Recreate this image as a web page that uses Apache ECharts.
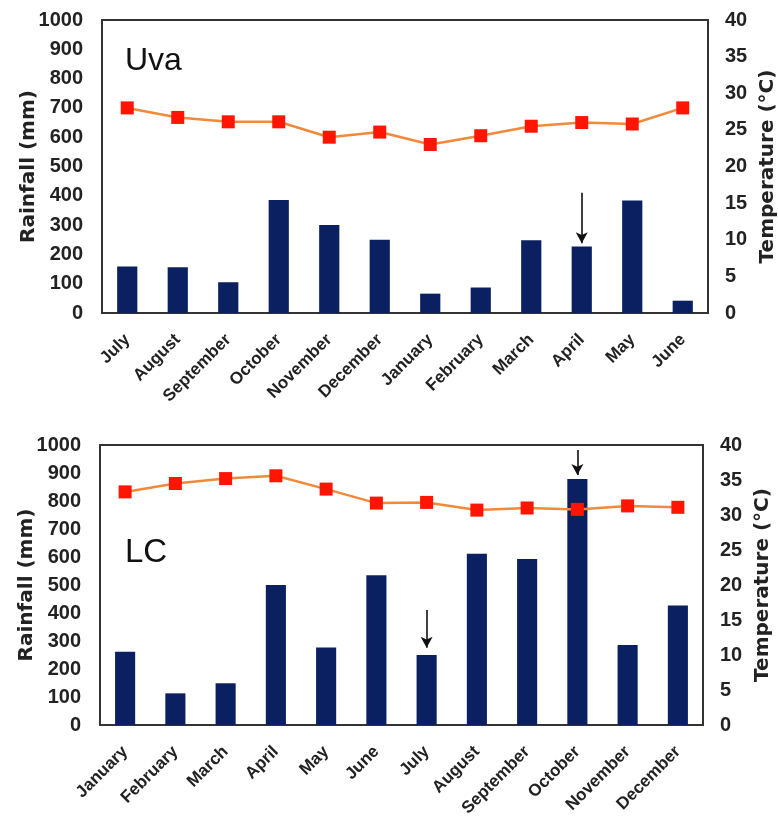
<!DOCTYPE html>
<html><head><meta charset="utf-8">
<script src="https://cdn.jsdelivr.net/npm/echarts@6/dist/echarts.min.js"></script>
<style>html,body{margin:0;padding:0;background:#fff}#c{width:778px;height:820px}</style>
</head><body><div id="c"></div>
<script>
var uvaMonths = ['July','August','September','October','November','December','January','February','March','April','May','June'];
var uvaRain = [159,156,105,386,300,250,66,87,248,227,384,42];
var uvaTemp = [28.0,26.7,26.1,26.1,24.0,24.7,23.0,24.2,25.5,26.0,25.8,28.0];
var lcMonths = ['January','February','March','April','May','June','July','August','September','October','November','December'];
var lcRain = [262,113,149,500,277,535,250,612,593,879,286,427];
var lcTemp = [33.3,34.5,35.2,35.6,33.7,31.7,31.8,30.7,31.0,30.8,31.3,31.1];
var rainTicks = [0,1000,100];
var tempTicks = [0,40,5];
// arrows: [category index, start value, end value] in rainfall units
var uvaArrows = [[9,410,238]];
var lcArrows = [[6,411,276],[9,982,893]];

var FONT = '"Liberation Sans", Arial, sans-serif';
var NFONT = '"DejaVu Sans", Verdana, sans-serif';
var TXT = '#222';
function arrowLines(list){
  return list.map(function(a){ return [{coord:[a[0],a[1]]},{coord:[a[0],a[2]]}]; });
}
function yLeft(gi){
  return {type:'value', gridIndex:gi, min:rainTicks[0], max:rainTicks[1], interval:rainTicks[2],
    name:'Rainfall (mm)', nameLocation:'middle', nameGap:63, nameRotate:90, nameMoveOverlap:false,
    nameTextStyle:{fontFamily:NFONT,fontWeight:'bold',fontSize:20,color:TXT},
    axisLine:{show:false}, axisTick:{show:false}, splitLine:{show:false},
    axisLabel:{fontFamily:FONT,fontWeight:'bold',fontSize:20,color:TXT,margin:19,formatter:function(v){return String(v);}}};
}
function yRight(gi){
  return {type:'value', gridIndex:gi, position:'right', min:tempTicks[0], max:tempTicks[1], interval:tempTicks[2],
    name:'Temperature (°C)', nameLocation:'middle', nameGap:50, nameRotate:90, nameMoveOverlap:false,
    nameTextStyle:{fontFamily:NFONT,fontWeight:'bold',fontSize:20,color:TXT},
    axisLine:{show:false}, axisTick:{show:false}, splitLine:{show:false},
    axisLabel:{fontFamily:FONT,fontWeight:'bold',fontSize:20,color:TXT,margin:17}};
}
function xCat(gi,cats){
  return {type:'category', gridIndex:gi, data:cats,
    axisLine:{show:true,lineStyle:{color:'#333',width:2}}, axisTick:{show:false},
    axisLabel:{fontFamily:FONT,fontWeight:'bold',fontSize:17,color:TXT,rotate:45,margin:24,interval:0}};
}
function bars(gi,data,arrows){
  return {type:'bar', xAxisIndex:gi, yAxisIndex:gi*2, data:data, barWidth:'40%',
    itemStyle:{color:'#0b2060'},
    markLine:{silent:true, symbol:['none','arrow'], symbolSize:[9,11], label:{show:false},
      lineStyle:{color:'#111',width:1.6,type:'solid'}, emphasis:{disabled:true}, data:arrowLines(arrows)}};
}
function line(gi,data){
  return {type:'line', xAxisIndex:gi, yAxisIndex:gi*2+1, data:data, symbol:'rect', symbolSize:13,
    lineStyle:{color:'#f08a3a',width:2.5}, itemStyle:{color:'#ff1500'}, z:5};
}
var chart = echarts.init(document.getElementById('c'));
chart.setOption({
  animation:false,
  backgroundColor:'#fff',
  title:[
    {text:'Uva', left:120, top:40, textStyle:{fontFamily:FONT,fontSize:32,fontWeight:'normal',color:'#111'}},
    {text:'LC', left:120, top:531, textStyle:{fontFamily:FONT,fontSize:33,fontWeight:'normal',color:'#111'}}
  ],
  grid:[
    {left:102, top:20, width:606, height:293, outerBoundsMode:'none', containLabel:false, show:true, borderColor:'#333', borderWidth:2, backgroundColor:'transparent'},
    {left:100, top:445, width:603, height:280, outerBoundsMode:'none', containLabel:false, show:true, borderColor:'#333', borderWidth:2, backgroundColor:'transparent'}
  ],
  xAxis:[xCat(0,uvaMonths), xCat(1,lcMonths)],
  yAxis:[yLeft(0), yRight(0), yLeft(1), yRight(1)],
  series:[bars(0,uvaRain,uvaArrows), line(0,uvaTemp), bars(1,lcRain,lcArrows), line(1,lcTemp)]
});
</script></body></html>
